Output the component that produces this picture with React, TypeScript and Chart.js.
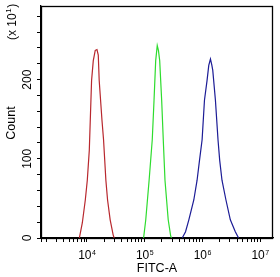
import React, { useEffect, useRef } from "react";
import { Chart, registerables } from "chart.js";

Chart.register(...registerables);

const FONT = '"Liberation Sans", Arial, sans-serif';

// FITC-A values (x) and counts (in units of x10^1)
const redX = [7430, 8360, 9420, 10200, 11050, 12100, 12950, 14000, 15000, 15800, 16400, 18300, 19500, 21400, 22900, 25400, 28600, 29800];
const redY = [0, 19, 48, 73, 111, 199, 224, 237, 238, 231, 199, 149, 124, 73, 48, 23, 4, 0];

const greenX = [96200, 105000, 120000, 136000, 146000, 156000, 166000, 174000, 183000, 198000, 211000, 226000, 257000, 283000, 292000];
const greenY = [0, 23, 73, 124, 174, 224, 243, 237, 224, 174, 124, 73, 23, 3, 0];

const blueX = [449000, 513000, 585000, 713000, 813000, 895000, 993000, 1091000, 1210000, 1295000, 1385000, 1458000, 1518000, 1689000, 1872000, 2003000, 2194000, 2570000, 3061000, 3734000, 4256000];
const blueY = [0, 8, 23, 48, 73, 98, 124, 174, 199, 218, 226, 219, 212, 174, 124, 98, 73, 48, 23, 8, 0];

const xMin = 1610;
const xMax = 16777215;
const yMin = 0;
const yMax = 293;

const xDecades = [1e4, 1e5, 1e6, 1e7];
const xMinorMultipliers = [2, 3, 4, 5, 6, 7, 8, 9];
const xMinorDecades = [1e3, 1e4, 1e5, 1e6];
const yTickValues = [0, 20, 40, 60, 80, 100, 120, 140, 160, 180, 200, 220, 240, 260, 280];
const yLabelValues = [0, 100, 200];

const xTitle = "FITC-A";
const yTitle = "Count";
const yScaleNote = ["(x 10", "1", ")"];

const xTickValues: number[] = [xMin];
xMinorDecades.forEach((d) => xMinorMultipliers.forEach((m) => { const v = d * m; if (v >= xMin && v <= xMax) xTickValues.push(v); }));
xDecades.forEach((d) => { if (d >= xMin && d <= xMax) xTickValues.push(d); });
xTickValues.sort((a, b) => a - b);

const toPoints = (xs: number[], ys: number[]) => xs.map((x, i) => ({ x, y: ys[i] }));

const textPlugin = {
  id: "texts",
  afterDraw(chart: any) {
    const { ctx, chartArea, scales } = chart;
    const xs = scales.x;
    const ys = scales.y;
    ctx.save();
    // frame
    ctx.strokeStyle = "#000";
    ctx.lineWidth = 1.3;
    ctx.strokeRect(Math.round(chartArea.left) + 0.5, Math.round(chartArea.top) + 0.5, Math.round(chartArea.right - chartArea.left) - 1, Math.round(chartArea.bottom - chartArea.top));
    ctx.fillStyle = "#000";
    // x labels
    ctx.textBaseline = "alphabetic";
    ctx.textAlign = "left";
    xDecades.forEach((d) => {
      const px = xs.getPixelForValue(d);
      const exp = String(Math.round(Math.log10(d)));
      ctx.font = `12px ${FONT}`;
      const w1 = ctx.measureText("10").width;
      ctx.font = `7px ${FONT}`;
      const w2 = ctx.measureText(exp).width;
      const start = px - (w1 + w2) / 2;
      ctx.font = `12px ${FONT}`;
      ctx.fillText("10", start, 259);
      ctx.font = `7px ${FONT}`;
      ctx.fillText(exp, start + w1 + 0.5, 254.5);
    });
    // y labels
    ctx.font = `12px ${FONT}`;
    ctx.textAlign = "center";
    yLabelValues.forEach((v) => {
      const py = ys.getPixelForValue(v);
      ctx.save();
      ctx.translate(31, py);
      ctx.rotate(-Math.PI / 2);
      ctx.fillText(String(v), 0, 0);
      ctx.restore();
    });
    // y title
    ctx.save();
    ctx.font = `12.5px ${FONT}`;
    ctx.translate(15, (chartArea.top + chartArea.bottom) / 2 + 1);
    ctx.rotate(-Math.PI / 2);
    ctx.textAlign = "center";
    ctx.fillText(yTitle, 0, 0);
    ctx.restore();
    // scale note
    ctx.save();
    ctx.translate(15.5, 40);
    ctx.rotate(-Math.PI / 2);
    ctx.textAlign = "left";
    ctx.font = `12px ${FONT}`;
    let cx = 0;
    ctx.fillText(yScaleNote[0], cx, 0);
    cx += ctx.measureText(yScaleNote[0]).width;
    ctx.font = `8px ${FONT}`;
    ctx.fillText(yScaleNote[1], cx + 0.5, -5);
    cx += ctx.measureText(yScaleNote[1]).width + 1;
    ctx.font = `12px ${FONT}`;
    ctx.fillText(yScaleNote[2], cx, 0);
    ctx.restore();
    // x title
    ctx.font = `12.5px ${FONT}`;
    ctx.textAlign = "center";
    ctx.fillText(xTitle, (chartArea.left + chartArea.right) / 2, 272);
    ctx.restore();
  },
};

export default function App() {
  const ref = useRef<HTMLCanvasElement | null>(null);
  useEffect(() => {
    if (!ref.current) return;
    const line = (data: any, color: string) => ({
      data,
      borderColor: color,
      backgroundColor: color,
      borderWidth: 1.2,
      showLine: true,
      pointRadius: 0,
      tension: 0,
      fill: false,
    });
    const chart = new Chart(ref.current, {
      type: "scatter",
      data: {
        datasets: [
          line(toPoints(redX, redY), "#b8282e"),
          line(toPoints(greenX, greenY), "#2edc2e"),
          line(toPoints(blueX, blueY), "#1c1c96"),
        ],
      },
      options: {
        animation: false,
        responsive: false,
        events: [],
        layout: { padding: { left: 0, right: 7, top: 6, bottom: 0 } },
        plugins: { legend: { display: false }, tooltip: { enabled: false } },
        scales: {
          x: {
            type: "logarithmic",
            min: xMin,
            max: xMax,
            afterBuildTicks: (scale: any) => {
              scale.ticks = xTickValues.map((v) => ({ value: v }));
            },
            afterFit: (scale: any) => {
              scale.height = 39;
            },
            ticks: { display: false, autoSkip: false },
            grid: { display: true, drawOnChartArea: false, drawTicks: true, tickLength: 4, color: "#000", lineWidth: 1 },
            border: { display: true, color: "#000", width: 1.3 },
          },
          y: {
            type: "linear",
            min: yMin,
            max: yMax,
            afterBuildTicks: (scale: any) => {
              scale.ticks = yTickValues.map((v) => ({ value: v }));
            },
            afterFit: (scale: any) => {
              scale.width = 41;
            },
            ticks: { display: false, autoSkip: false },
            grid: { display: true, drawOnChartArea: false, drawTicks: true, tickLength: 4, color: "#000", lineWidth: 1 },
            border: { display: true, color: "#000", width: 1.3 },
          },
        },
      } as any,
      plugins: [textPlugin],
    });
    return () => chart.destroy();
  }, []);
  return (
    <div style={{ position: "absolute", left: 0, top: 0, width: 280, height: 277, background: "#fff" }}>
      <canvas ref={ref} width={280} height={277} style={{ display: "block" }} />
    </div>
  );
}
